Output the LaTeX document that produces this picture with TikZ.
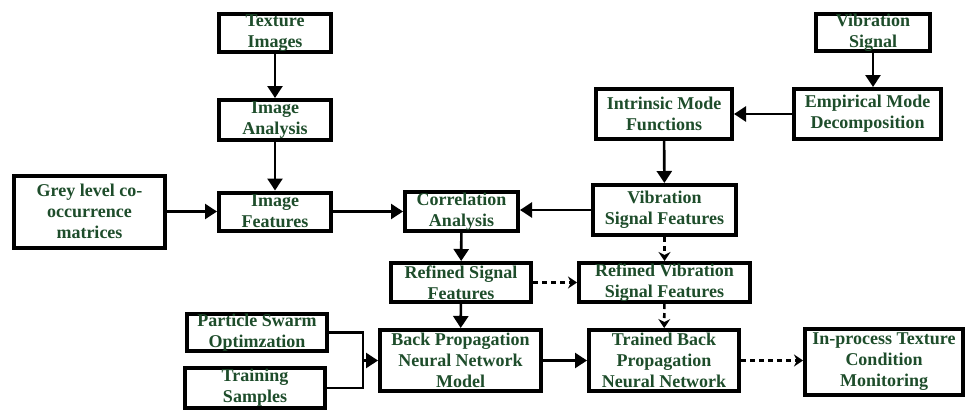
\documentclass[tikz,border=0pt]{standalone}
\usepackage{fontspec}
\setmainfont{Liberation Serif}
\usetikzlibrary{arrows.meta,positioning}
\definecolor{txtgreen}{RGB}{30,77,43}
\tikzset{
  box/.style={draw=black, line width=4pt, rectangle, inner sep=0pt, align=center,
    font=\fontsize{18}{21}\selectfont\bfseries, text=txtgreen},
  arr/.style={line width=2.6pt, -{Triangle[length=12pt,width=15pt]}},
  darr/.style={line width=2.6pt, dash pattern=on 5pt off 4pt, -{Stealth[length=9pt,width=12pt,inset=3pt]}},
  ln/.style={line width=2.6pt}
}
\begin{document}
\begin{tikzpicture}[x=1pt,y=-1pt]
\useasboundingbox (0,0) rectangle (965,412);
\node[box, minimum width=112pt, minimum height=38pt] (tex) at (275,33) {Texture\\Images};
\node[box, minimum width=112pt, minimum height=40pt] (ima) at (275,120) {Image\\Analysis};
\node[box, minimum width=112pt, minimum height=38pt] (imf) at (275,211.5) {Image\\Features};
\node[box, minimum width=151pt, minimum height=72pt] (grey) at (89.5,211.5) {Grey level co-\\occurrence\\matrices};
\node[box, minimum width=113pt, minimum height=39pt] (corr) at (461.5,211.5) {Correlation\\Analysis};
\node[box, minimum width=114pt, minimum height=37pt] (vs) at (873,32.5) {Vibration\\Signal};
\node[box, minimum width=147pt, minimum height=50pt] (emd) at (867.5,114) {Empirical Mode\\Decomposition};
\node[box, minimum width=136pt, minimum height=50pt] (imfn) at (664,114) {Intrinsic Mode\\Functions};
\node[box, minimum width=143pt, minimum height=50pt] (vsf) at (664.5,210) {Vibration\\Signal Features};
\node[box, minimum width=140pt, minimum height=39pt] (rsf) at (461,282.5) {Refined Signal\\Features};
\node[box, minimum width=171pt, minimum height=39pt] (rvsf) at (664.5,282.5) {Refined Vibration\\Signal Features};
\node[box, minimum width=140pt, minimum height=37pt] (pso) at (257,332.5) {Particle Swarm\\Optimzation};
\node[box, minimum width=140pt, minimum height=40pt] (ts) at (255,388) {Training\\Samples};
\node[box, minimum width=161pt, minimum height=61pt] (bp) at (460.5,360.5) {Back Propagation\\Neural Network\\Model};
\node[box, minimum width=150pt, minimum height=61pt] (tbp) at (664,360.5) {Trained Back\\Propagation\\Neural Network};
\node[box, minimum width=158pt, minimum height=66pt] (inp) at (884,362) {In-process Texture\\Condition\\Monitoring};
\coordinate (j) at (363,360.5);
\draw[arr] (tex) -- (ima);
\draw[arr] (ima) -- (imf);
\draw[arr] (grey) -- (imf);
\draw[arr] (imf) -- (corr);
\draw[arr] (vs.south) -- (vs.south |- emd.north);
\draw[arr] (emd) -- (imfn);
\draw[arr] (imfn) -- (vsf);
\draw[arr] (vsf.west) -- (corr.east |- vsf.west);
\draw[arr] (corr) -- (rsf);
\draw[arr] (rsf) -- (bp);
\draw[arr] (bp) -- (tbp);
\draw[darr] (vsf) -- (rvsf);
\draw[darr] (rsf) -- (rvsf);
\draw[darr] (rvsf) -- (tbp);
\draw[darr] (tbp.east) -- (inp.west |- tbp.east);
\draw[ln] (pso.east) -| (j);
\draw[ln] (ts.east) -| (j);
\draw[arr] (j) -- (bp.west |- j);
\end{tikzpicture}
\end{document}
